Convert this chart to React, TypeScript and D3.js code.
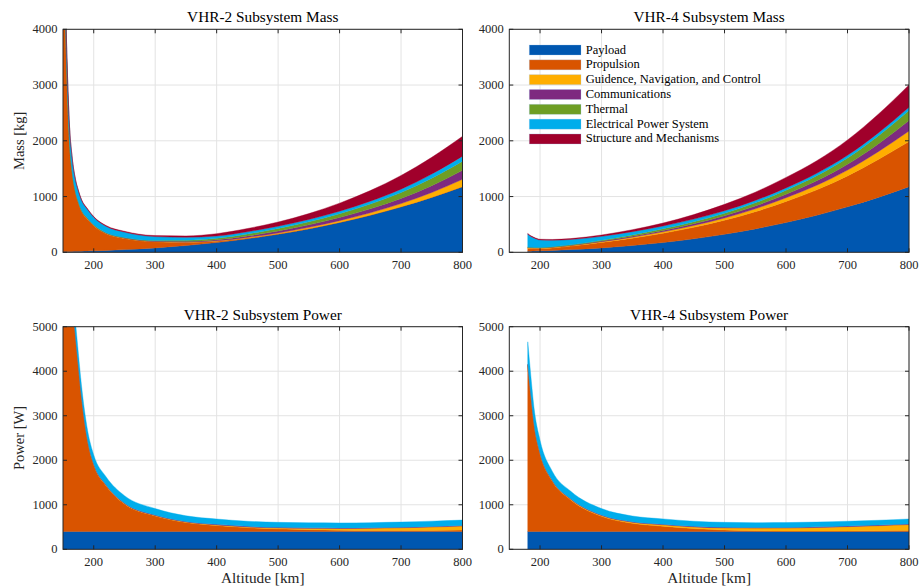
import React from 'react'
import * as d3 from 'd3'

const subsystems = [
  'Payload',
  'Propulsion',
  'Guidence, Navigation, and Control',
  'Communications',
  'Thermal',
  'Electrical Power System',
  'Structure and Mechanisms'
]
const colours = ['#0057b0', '#d95400', '#ffae00', '#7e2a80', '#6e9e24', '#00adeb', '#a0002b']

const xTicks = [200, 300, 400, 500, 600, 700, 800]
const massTicks = [0, 1000, 2000, 3000, 4000]
const powerTicks = [0, 1000, 2000, 3000, 4000, 5000]

// altitudes [km]
const altV2 = [150, 155, 160, 165, 170, 175, 180, 190, 200, 220, 250, 300, 350, 400, 450, 500, 550, 600, 650, 700, 750, 800]
const altV4 = [180, 185, 190, 200, 220, 250, 300, 350, 400, 450, 500, 550, 600, 650, 700, 750, 800]

// VHR-2 mass [kg]
const v2MassPayload = [12, 13, 14, 15, 17, 18, 20, 23, 26, 34, 48, 79, 121, 175, 242, 323, 420, 534, 665, 815, 985, 1177]
const v2MassProp = [6600, 3760, 2090, 1410, 1070, 870, 720, 570, 450, 300, 200, 110, 55, 22, 14, 10, 7, 5, 4, 3, 3, 3]
const v2MassGnc = [16, 14, 12, 10, 9, 8, 8, 8, 7, 6, 6, 5, 6, 8, 11, 15, 21, 29, 40, 56, 85, 130]
const v2MassComms = [4, 4, 4, 4, 4, 4, 4, 4, 4, 5, 5, 8, 14, 20, 27, 35, 44, 56, 71, 92, 122, 160]
const v2MassThermal = [5, 5, 5, 5, 5, 5, 6, 6, 6, 7, 8, 10, 18, 25, 34, 45, 55, 68, 85, 107, 134, 165]
const v2MassEps = [340, 290, 260, 240, 210, 195, 180, 155, 135, 115, 95, 70, 55, 42, 40, 40, 42, 45, 52, 60, 75, 90]
const v2MassStruct = [23, 14, 15, 16, 15, 15, 12, 14, 12, 13, 15, 18, 25, 42, 58, 75, 105, 145, 190, 245, 300, 355]

// VHR-4 mass [kg]
const v4MassPayload = [20, 21, 23, 26, 34, 48, 79, 121, 175, 242, 323, 420, 534, 665, 815, 985, 1177]
const v4MassProp = [48, 45, 43, 40, 45, 63, 98, 133, 167, 207, 252, 308, 378, 455, 555, 680, 810]
const v4MassGnc = [14, 13, 12, 11, 11, 10, 12, 18, 25, 32, 40, 52, 66, 83, 105, 140, 190]
const v4MassComms = [5, 5, 5, 5, 5, 6, 12, 18, 25, 32, 40, 50, 63, 80, 103, 138, 186]
const v4MassThermal = [5, 5, 5, 5, 6, 8, 15, 22, 30, 37, 45, 57, 72, 90, 114, 145, 180]
const v4MassEps = [230, 195, 170, 135, 115, 95, 70, 58, 50, 46, 45, 43, 42, 44, 48, 54, 60]
const v4MassStruct = [15, 13, 12, 12, 14, 16, 24, 35, 52, 80, 115, 148, 188, 225, 275, 335, 400]

// VHR-2 power [W]
const v2PowerPayload = [400, 400, 400, 400, 400, 400, 400, 400, 400, 400, 400, 400, 400, 400, 400, 400, 400, 400, 400, 400, 400, 400]
const v2PowerProp = [9130, 7380, 6130, 5150, 4430, 3710, 3030, 2035, 1500, 1030, 620, 350, 203, 136, 87, 59, 41, 30, 25, 24, 25, 32]
const v2PowerGnc = [8, 8, 8, 8, 8, 8, 8, 8, 8, 8, 8, 8, 10, 12, 16, 22, 30, 38, 48, 60, 75, 90]
const v2PowerComms = [12, 12, 12, 12, 12, 12, 12, 12, 12, 12, 12, 12, 12, 12, 12, 12, 12, 12, 12, 13, 14, 15]
const v2PowerEps = [450, 400, 350, 330, 300, 270, 240, 215, 200, 180, 165, 145, 128, 120, 115, 112, 112, 112, 113, 115, 118, 120]

// VHR-4 power [W]
const v4PowerPayload = [400, 400, 400, 400, 400, 400, 400, 400, 400, 400, 400, 400, 400, 400, 400, 400, 400]
const v4PowerProp = [3738, 3058, 2428, 1746, 1126, 709, 340, 184, 120, 65, 33, 18, 10, 9, 12, 15, 20]
const v4PowerGnc = [10, 10, 10, 12, 12, 14, 18, 24, 30, 38, 48, 58, 68, 82, 97, 115, 135]
const v4PowerComms = [12, 12, 12, 12, 12, 12, 12, 12, 12, 12, 12, 12, 12, 13, 13, 14, 15]
const v4PowerEps = [500, 420, 350, 280, 200, 168, 145, 128, 120, 115, 112, 110, 110, 108, 108, 108, 110]

const font = "'Liberation Serif', 'DejaVu Serif', serif"
const axisColour = '#262626'
const gridColour = '#e3e3e3'

const panels = [
  {
    id: 'm2', title: 'VHR-2 Subsystem Mass', x0: 63, y0: 29.3, w: 399.5, h: 223, yMax: 4000, yTicks: massTicks,
    yLabel: 'Mass [kg]', xLabel: null, legend: false, alt: altV2,
    series: [v2MassPayload, v2MassProp, v2MassGnc, v2MassComms, v2MassThermal, v2MassEps, v2MassStruct]
  },
  {
    id: 'm4', title: 'VHR-4 Subsystem Mass', x0: 509.3, y0: 29.3, w: 399.7, h: 223, yMax: 4000, yTicks: massTicks,
    yLabel: null, xLabel: null, legend: true, alt: altV4,
    series: [v4MassPayload, v4MassProp, v4MassGnc, v4MassComms, v4MassThermal, v4MassEps, v4MassStruct]
  },
  {
    id: 'p2', title: 'VHR-2 Subsystem Power', x0: 63, y0: 326.7, w: 399.5, h: 222.6, yMax: 5000, yTicks: powerTicks,
    yLabel: 'Power [W]', xLabel: 'Altitude [km]', legend: false, alt: altV2,
    series: [v2PowerPayload, v2PowerProp, v2PowerGnc, v2PowerComms, null, v2PowerEps, null]
  },
  {
    id: 'p4', title: 'VHR-4 Subsystem Power', x0: 509.3, y0: 326.7, w: 399.7, h: 222.6, yMax: 5000, yTicks: powerTicks,
    yLabel: null, xLabel: 'Altitude [km]', legend: false, alt: altV4,
    series: [v4PowerPayload, v4PowerProp, v4PowerGnc, v4PowerComms, null, v4PowerEps, null]
  }
]

function Panel({ p }: { p: any }) {
  const x = d3.scaleLinear().domain([150, 800]).range([p.x0, p.x0 + p.w])
  const y = d3.scaleLinear().domain([0, p.yMax]).range([p.y0 + p.h, p.y0])

  const keys: string[] = []
  const keyIdx: number[] = []
  p.series.forEach((s: number[] | null, i: number) => {
    if (s) { keys.push('s' + i); keyIdx.push(i) }
  })
  const rows = p.alt.map((a: number, j: number) => {
    const r: any = { alt: a }
    p.series.forEach((s: number[] | null, i: number) => { if (s) r['s' + i] = s[j] })
    return r
  })
  const stacked = d3.stack().keys(keys)(rows)
  const area = d3.area<any>()
    .x(d => x(d.data.alt))
    .y0(d => y(d[0]))
    .y1(d => y(d[1]))
    .curve(d3.curveMonotoneX)

  const tl = 4
  const bottom = p.y0 + p.h
  const right = p.x0 + p.w
  const clipId = 'clip-' + p.id

  return (
    <g>
      <defs>
        <clipPath id={clipId}>
          <rect x={p.x0} y={p.y0} width={p.w} height={p.h} />
        </clipPath>
      </defs>
      <rect x={p.x0} y={p.y0} width={p.w} height={p.h} fill="#fff" />
      {xTicks.map(t => (
        <line key={'gx' + t} x1={x(t)} x2={x(t)} y1={p.y0} y2={bottom} stroke={gridColour} strokeWidth={1} />
      ))}
      {p.yTicks.map((t: number) => (
        <line key={'gy' + t} x1={p.x0} x2={right} y1={y(t)} y2={y(t)} stroke={gridColour} strokeWidth={1} />
      ))}
      <g clipPath={`url(#${clipId})`}>
        {stacked.map((layer, k) => (
          <path key={layer.key} d={area(layer as any) || ''} fill={colours[keyIdx[k]]}
            stroke={colours[keyIdx[k]]} strokeWidth={0.4} />
        ))}
      </g>
      <rect x={p.x0} y={p.y0} width={p.w} height={p.h} fill="none" stroke={axisColour} strokeWidth={1} />
      {xTicks.map(t => (
        <g key={'tx' + t}>
          <line x1={x(t)} x2={x(t)} y1={bottom} y2={bottom - tl} stroke={axisColour} />
          <line x1={x(t)} x2={x(t)} y1={p.y0} y2={p.y0 + tl} stroke={axisColour} />
          <text x={x(t)} y={bottom + 16.5} textAnchor="middle" fontSize={12.5} fontFamily={font} fill="#262626">{t}</text>
        </g>
      ))}
      {p.yTicks.map((t: number) => (
        <g key={'ty' + t}>
          <line x1={p.x0} x2={p.x0 + tl} y1={y(t)} y2={y(t)} stroke={axisColour} />
          <line x1={right} x2={right - tl} y1={y(t)} y2={y(t)} stroke={axisColour} />
          <text x={p.x0 - 5.5} y={y(t) + 4} textAnchor="end" fontSize={12.5} fontFamily={font} fill="#262626">{t}</text>
        </g>
      ))}
      <text x={p.x0 + p.w / 2} y={p.y0 - 7} textAnchor="middle" fontSize={15.3} fontFamily={font} fill="#000">{p.title}</text>
      {p.yLabel && (
        <text transform={`translate(24,${p.y0 + p.h / 2}) rotate(-90)`} textAnchor="middle" fontSize={14.5}
          fontFamily={font} fill="#262626">{p.yLabel}</text>
      )}
      {p.xLabel && (
        <text x={p.x0 + p.w / 2} y={bottom + 34} textAnchor="middle" fontSize={15.3} fontFamily={font} fill="#262626">{p.xLabel}</text>
      )}
      {p.legend && (
        <g>
          {subsystems.map((name, i) => (
            <g key={name} transform={`translate(529.3,${45 + i * 14.83})`}>
              <rect x={0} y={0} width={51.7} height={10} fill={colours[i]} stroke="#9cc3ee" strokeOpacity={0.35} strokeWidth={0.8} />
              <text x={56.4} y={8.5} fontSize={12.5} fontFamily={font} fill="#000">{name}</text>
            </g>
          ))}
        </g>
      )}
    </g>
  )
}

export default function App() {
  return (
    <svg width={921} height={587} style={{ position: 'absolute', left: 0, top: 0, background: '#fff' }}>
      {panels.map(p => <Panel key={p.id} p={p} />)}
    </svg>
  )
}
